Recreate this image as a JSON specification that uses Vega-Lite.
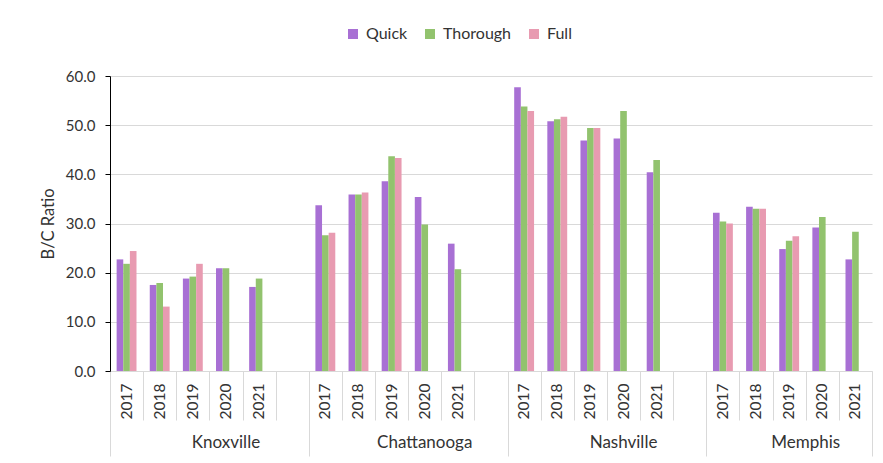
{
  "$schema": "https://vega.github.io/schema/vega-lite/v6.json",
  "autosize": "none",
  "width": 762,
  "height": 295,
  "padding": {"left": 110, "top": 76, "right": 11, "bottom": 92},
  "background": "white",
  "config": {
    "font": "Lato",
    "view": {"stroke": null},
    "axis": {"labelColor": "#333333", "titleColor": "#333333", "labelFontSize": 15, "titleFontSize": 16.5, "titleFontWeight": "normal"},
    "legend": {"labelColor": "#333333", "labelFontSize": 16}
  },
  "data": {
    "values": [
      {"slot": "Knoxville|2017", "series": "Quick", "value": 22.7},
      {"slot": "Knoxville|2017", "series": "Thorough", "value": 21.8},
      {"slot": "Knoxville|2017", "series": "Full", "value": 24.4},
      {"slot": "Knoxville|2018", "series": "Quick", "value": 17.5},
      {"slot": "Knoxville|2018", "series": "Thorough", "value": 17.9},
      {"slot": "Knoxville|2018", "series": "Full", "value": 13.1},
      {"slot": "Knoxville|2019", "series": "Quick", "value": 18.8},
      {"slot": "Knoxville|2019", "series": "Thorough", "value": 19.2},
      {"slot": "Knoxville|2019", "series": "Full", "value": 21.8},
      {"slot": "Knoxville|2020", "series": "Quick", "value": 20.9},
      {"slot": "Knoxville|2020", "series": "Thorough", "value": 20.9},
      {"slot": "Knoxville|2021", "series": "Quick", "value": 17.1},
      {"slot": "Knoxville|2021", "series": "Thorough", "value": 18.8},
      {"slot": "Chattanooga|2017", "series": "Quick", "value": 33.7},
      {"slot": "Chattanooga|2017", "series": "Thorough", "value": 27.6},
      {"slot": "Chattanooga|2017", "series": "Full", "value": 28.1},
      {"slot": "Chattanooga|2018", "series": "Quick", "value": 35.9},
      {"slot": "Chattanooga|2018", "series": "Thorough", "value": 35.9},
      {"slot": "Chattanooga|2018", "series": "Full", "value": 36.3},
      {"slot": "Chattanooga|2019", "series": "Quick", "value": 38.6},
      {"slot": "Chattanooga|2019", "series": "Thorough", "value": 43.7},
      {"slot": "Chattanooga|2019", "series": "Full", "value": 43.3},
      {"slot": "Chattanooga|2020", "series": "Quick", "value": 35.4},
      {"slot": "Chattanooga|2020", "series": "Thorough", "value": 29.8},
      {"slot": "Chattanooga|2021", "series": "Quick", "value": 25.9},
      {"slot": "Chattanooga|2021", "series": "Thorough", "value": 20.7},
      {"slot": "Nashville|2017", "series": "Quick", "value": 57.7},
      {"slot": "Nashville|2017", "series": "Thorough", "value": 53.8},
      {"slot": "Nashville|2017", "series": "Full", "value": 52.9},
      {"slot": "Nashville|2018", "series": "Quick", "value": 50.8},
      {"slot": "Nashville|2018", "series": "Thorough", "value": 51.2},
      {"slot": "Nashville|2018", "series": "Full", "value": 51.7},
      {"slot": "Nashville|2019", "series": "Quick", "value": 46.9},
      {"slot": "Nashville|2019", "series": "Thorough", "value": 49.4},
      {"slot": "Nashville|2019", "series": "Full", "value": 49.4},
      {"slot": "Nashville|2020", "series": "Quick", "value": 47.3},
      {"slot": "Nashville|2020", "series": "Thorough", "value": 52.9},
      {"slot": "Nashville|2021", "series": "Quick", "value": 40.4},
      {"slot": "Nashville|2021", "series": "Thorough", "value": 42.9},
      {"slot": "Memphis|2017", "series": "Quick", "value": 32.2},
      {"slot": "Memphis|2017", "series": "Thorough", "value": 30.4},
      {"slot": "Memphis|2017", "series": "Full", "value": 30.0},
      {"slot": "Memphis|2018", "series": "Quick", "value": 33.4},
      {"slot": "Memphis|2018", "series": "Thorough", "value": 33.0},
      {"slot": "Memphis|2018", "series": "Full", "value": 33.0},
      {"slot": "Memphis|2019", "series": "Quick", "value": 24.8},
      {"slot": "Memphis|2019", "series": "Thorough", "value": 26.5},
      {"slot": "Memphis|2019", "series": "Full", "value": 27.4},
      {"slot": "Memphis|2020", "series": "Quick", "value": 29.2},
      {"slot": "Memphis|2020", "series": "Thorough", "value": 31.3},
      {"slot": "Memphis|2021", "series": "Quick", "value": 22.7},
      {"slot": "Memphis|2021", "series": "Thorough", "value": 28.3}
    ]
  },
  "encoding": {
    "x": {
      "field": "slot",
      "type": "nominal",
      "sort": null,
      "scale": {
        "domain": ["Knoxville|2017", "Knoxville|2018", "Knoxville|2019", "Knoxville|2020", "Knoxville|2021", "Knoxville|",
                   "Chattanooga|2017", "Chattanooga|2018", "Chattanooga|2019", "Chattanooga|2020", "Chattanooga|2021", "Chattanooga|",
                   "Nashville|2017", "Nashville|2018", "Nashville|2019", "Nashville|2020", "Nashville|2021", "Nashville|",
                   "Memphis|2017", "Memphis|2018", "Memphis|2019", "Memphis|2020", "Memphis|2021"],
        "paddingInner": 0,
        "paddingOuter": 0
      }
    },
    "xOffset": {
      "field": "series",
      "type": "nominal",
      "scale": {"domain": ["Quick", "Thorough", "Full"], "paddingInner": 0, "paddingOuter": 1.02}
    },
    "y": {
      "field": "value",
      "type": "quantitative",
      "scale": {"domain": [0, 60], "nice": false},
      "axis": {
        "title": "B/C Ratio",
        "values": [0, 10, 20, 30, 40, 50, 60],
        "format": ".1f",
        "grid": true,
        "gridColor": "#d9d9d9",
        "domainColor": "#000000",
        "tickColor": "#000000",
        "tickSize": 5,
        "labelPadding": 10,
        "titlePadding": 9
      }
    },
    "color": {
      "field": "series",
      "type": "nominal",
      "scale": {"domain": ["Quick", "Thorough", "Full"], "range": ["#A870D4", "#92C36E", "#E89BB1"]},
      "legend": {
        "title": null,
        "orient": "none",
        "direction": "horizontal",
        "legendX": 235,
        "legendY": -50,
        "symbolType": "square",
        "symbolSize": 100,
        "symbolStrokeWidth": 0,
        "labelOffset": 5,
        "columnPadding": 14
      }
    }
  },
  "layer": [
    {
      "transform": [{"filter": "datum.series == 'Quick'"}],
      "mark": {"type": "bar"},
      "encoding": {
        "x": {
          "field": "slot", "type": "nominal", "sort": null,
          "axis": {
            "orient": "bottom",
            "title": null,
            "labelAngle": 270,
            "labelExpr": "split(datum.value, '|')[1]",
            "ticks": false,
            "labelPadding": 12,
            "domainColor": "#d9d9d9",
            "labelFontSize": 15.5
          }
        }
      }
    },
    {
      "transform": [{"filter": "datum.series == 'Thorough'"}],
      "mark": {"type": "bar"},
      "encoding": {
        "x": {
          "field": "slot", "type": "nominal", "sort": null,
          "axis": {
            "orient": "bottom",
            "title": null,
            "labels": false,
            "domain": false,
            "ticks": true,
            "tickBand": "extent",
            "tickColor": "#d9d9d9",
            "tickSize": {"expr": "(datum.extra || indexof(['Knoxville|','Chattanooga|','Nashville|','Memphis|2021'], datum.value) >= 0) ? 85 : 49"}
          }
        }
      }
    },
    {
      "transform": [{"filter": "datum.series == 'Full'"}],
      "mark": {"type": "bar"},
      "encoding": {
        "x": {
          "field": "slot", "type": "nominal", "sort": null,
          "axis": {
            "orient": "bottom",
            "title": null,
            "domain": false,
            "ticks": false,
            "values": ["Knoxville|2020", "Chattanooga|2020", "Nashville|2020", "Memphis|2019"],
            "bandPosition": 0,
            "labelAngle": 0,
            "labelAlign": "center",
            "labelBaseline": "top",
            "labelPadding": 63,
            "labelExpr": "split(datum.value, '|')[0]",
            "labelOffset": {"expr": "datum.value == 'Memphis|2019' ? 16.5 : 0"},
            "labelFontSize": 17
          }
        }
      }
    }
  ],
  "resolve": {"axis": {"x": "independent"}}
}
